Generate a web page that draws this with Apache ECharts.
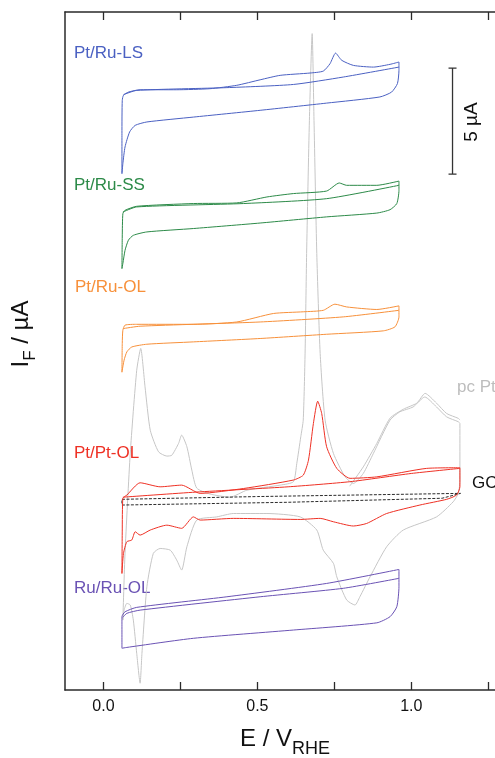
<!DOCTYPE html>
<html><head><meta charset="utf-8">
<script src="https://cdn.jsdelivr.net/npm/echarts@6/dist/echarts.min.js"></script>
<style>html,body{margin:0;padding:0;background:#fff}#c{width:495px;height:758px}</style>
</head><body><div id="c"></div>
<script>
// ---- data: [E (V vs RHE), I (µA, curves stacked with offsets as in the figure)] ----
const xTickValues = [0, 0.25, 0.5, 0.75, 1.0, 1.25];
const xLabelValues = [0, 0.5, 1.0];

const ptRuLS_scan1 = [[0.060,24.37],[0.060,26.26],[0.061,27.83],[0.065,28.07],[0.081,28.22],[0.119,28.33],[0.238,28.33],[0.346,28.38],[0.433,28.54],[0.509,28.80],[0.574,29.01],[0.671,29.12],[0.714,29.21],[0.736,29.56],[0.754,30.06],[0.774,29.72],[0.812,29.48],[0.877,29.40],[0.931,29.53],[0.960,29.64],[0.960,29.25],[0.955,28.62],[0.936,28.22],[0.898,27.99],[0.725,27.70],[0.509,27.36],[0.292,27.04],[0.141,26.81],[0.103,26.65],[0.085,26.34],[0.070,25.63],[0.063,24.84],[0.060,24.37]];
const ptRuLS_scan2 = [[0.065,28.10],[0.108,28.30],[0.401,28.43],[0.617,28.58],[0.779,28.93],[0.960,29.40]];

const ptRuSS_scan1 = [[0.060,19.89],[0.061,21.38],[0.063,22.48],[0.070,22.64],[0.108,22.83],[0.292,22.96],[0.433,22.99],[0.531,23.27],[0.617,23.43],[0.725,23.55],[0.766,23.93],[0.790,23.82],[0.888,23.82],[0.960,24.02],[0.960,23.58],[0.953,22.96],[0.931,22.67],[0.888,22.51],[0.725,22.33],[0.509,22.04],[0.292,21.78],[0.141,21.62],[0.097,21.46],[0.081,21.23],[0.070,20.75],[0.063,20.13],[0.060,19.89]];
const ptRuSS_scan2 = [[0.063,22.56],[0.108,22.80],[0.455,22.96],[0.725,23.19],[0.960,23.82]];

const ptRuOL_scan1 = [[0.060,15.00],[0.061,16.35],[0.063,16.98],[0.070,17.22],[0.108,17.26],[0.292,17.26],[0.433,17.37],[0.552,17.77],[0.649,17.85],[0.714,17.92],[0.752,18.21],[0.790,18.08],[0.888,17.96],[0.960,18.13],[0.960,17.61],[0.947,17.14],[0.909,16.95],[0.725,16.79],[0.509,16.59],[0.292,16.43],[0.141,16.32],[0.092,16.19],[0.076,15.96],[0.067,15.57],[0.061,15.09],[0.060,15.00]];
const ptRuOL_scan2 = [[0.065,17.06],[0.119,17.17],[0.509,17.37],[0.779,17.61],[0.960,17.92]];

const ptPtOL_scan1 = [[0.060,5.50],[0.061,7.50],[0.063,9.05],[0.076,9.20],[0.119,9.78],[0.184,9.59],[0.254,9.67],[0.314,9.28],[0.455,9.51],[0.617,9.91],[0.649,10.14],[0.666,10.85],[0.682,12.58],[0.696,13.63],[0.709,13.05],[0.725,11.48],[0.758,10.46],[0.801,9.99],[0.888,10.06],[1.050,10.46],[1.158,10.49],[1.158,9.59],[1.147,9.20],[1.115,9.00],[1.028,8.73],[0.920,8.33],[0.855,7.86],[0.812,7.74],[0.747,7.94],[0.704,8.10],[0.639,8.05],[0.422,8.10],[0.314,8.02],[0.292,8.17],[0.254,7.63],[0.206,7.78],[0.152,7.55],[0.119,7.31],[0.103,7.47],[0.092,7.08],[0.076,7.00],[0.065,6.45],[0.060,5.50]];
const ptPtOL_scan2 = [[0.063,9.10],[0.300,9.34],[0.600,9.59],[0.800,9.83],[1.000,10.22],[1.158,10.46]];

const ruRuOL_scan1 = [[0.060,1.97],[0.060,3.46],[0.070,3.69],[0.108,3.90],[0.401,4.40],[0.725,5.03],[0.960,5.69],[0.960,4.87],[0.953,3.93],[0.931,3.46],[0.888,3.17],[0.617,2.83],[0.292,2.44],[0.076,2.01],[0.060,1.97]];
const ruRuOL_scan2 = [[0.063,3.43],[0.076,3.62],[0.119,3.77],[0.509,4.40],[0.779,4.80],[0.960,5.27]];

const gc_scan = [[0.060,9.00],[0.500,9.13],[1.160,9.28],[1.160,9.20],[1.100,9.05],[0.600,8.86],[0.060,8.73],[0.060,9.00]];

const pcPt_scan1 = [[0.063,3.30],[0.070,6.46],[0.087,11.18],[0.108,15.09],[0.121,16.12],[0.135,14.31],[0.152,12.26],[0.179,11.24],[0.206,11.04],[0.222,11.08],[0.244,11.64],[0.254,12.03],[0.271,11.48],[0.287,10.38],[0.303,9.53],[0.346,9.25],[0.411,9.10],[0.466,9.43],[0.574,9.67],[0.617,9.83],[0.628,10.69],[0.641,11.95],[0.649,12.74],[0.655,15.90],[0.660,20.60],[0.669,26.89],[0.678,30.98],[0.684,26.89],[0.693,20.60],[0.704,15.88],[0.720,12.74],[0.747,11.17],[0.785,10.06],[0.812,9.75],[0.844,10.22],[0.877,11.17],[0.931,12.74],[0.963,13.13],[1.006,13.36],[1.044,13.83],[1.082,13.36],[1.115,12.89],[1.153,12.66],[1.158,12.58],[1.158,9.91],[1.153,9.28],[1.136,8.88],[1.082,8.17],[0.974,7.55],[0.920,6.76],[0.866,5.34],[0.833,4.40],[0.817,4.01],[0.790,4.25],[0.758,5.34],[0.747,5.98],[0.714,6.60],[0.693,7.55],[0.639,8.17],[0.531,8.33],[0.422,8.33],[0.368,8.17],[0.303,8.02],[0.271,6.76],[0.254,5.66],[0.238,6.13],[0.217,6.60],[0.184,6.68],[0.162,6.45],[0.141,4.87],[0.125,1.73],[0.119,0.32],[0.108,1.73],[0.097,3.30],[0.087,4.01],[0.076,4.09],[0.067,3.77],[0.063,3.30]];
const pcPt_scan2 = [[0.800,9.62],[0.844,10.53],[0.888,11.64],[0.931,12.83],[0.974,13.25],[1.018,13.54],[1.045,14.00],[1.082,13.54],[1.115,13.05],[1.153,12.82],[1.158,12.74]];

const scaleBarE = 1.134, scaleBarTop = 29.35, scaleBarSize = 5; // 5 µA scale bar
const scaleBarCap = 0.013;

const sampleNames = ['Pt/Ru-LS','Pt/Ru-SS','Pt/Ru-OL','Pt/Pt-OL','Ru/Ru-OL','pc Pt','GC'];
const colors = {ls:'#4a60c2', ss:'#2c8a48', ol:'#f7903a', pt:'#ee3024', ru:'#6a52b4', pc:'#c6c6c6', gc:'#2a2a2a'};

const FONT = '"Liberation Sans", Arial, Helvetica, sans-serif';
const chart = echarts.init(document.getElementById('c'), null, {renderer:'canvas'});

function line(data, color, extra) {
  return Object.assign({type:'line', data, symbol:'none', smooth:0.2, silent:true, animation:false,
    lineStyle:{color, width:1}, clip:true}, extra||{});
}
const sb = [[scaleBarE-scaleBarCap,scaleBarTop],[scaleBarE+scaleBarCap,scaleBarTop],[scaleBarE,scaleBarTop],
            [scaleBarE,scaleBarTop-scaleBarSize],[scaleBarE-scaleBarCap,scaleBarTop-scaleBarSize],[scaleBarE+scaleBarCap,scaleBarTop-scaleBarSize]];

const axisCommon = {type:'value', min:-0.125, max:1.272, splitLine:{show:false},
  axisLine:{show:true, onZero:false, lineStyle:{color:'#2a2a2a', width:1.5}},
  axisTick:{show:true, inside:true, length:8, customValues:xTickValues, lineStyle:{color:'#2a2a2a', width:1.3}}};

chart.setOption({
  animation:false,
  grid:{left:65, right:0, top:12, bottom:68, containLabel:false},
  xAxis:[
    Object.assign({}, axisCommon, {position:'bottom',
      axisLabel:{show:true, customValues:xLabelValues, formatter:v=>Number(v).toFixed(1), color:'#111', fontSize:16, fontFamily:FONT, margin:9}}),
    Object.assign({}, axisCommon, {position:'top', axisLabel:{show:false}})
  ],
  yAxis:{type:'value', min:0, max:32, position:'left', splitLine:{show:false}, axisTick:{show:false}, axisLabel:{show:false},
    axisLine:{show:true, onZero:false, lineStyle:{color:'#2a2a2a', width:1.5}}},
  series:[
    line(pcPt_scan1, colors.pc),
    line(pcPt_scan2, colors.pc),
    line(gc_scan, colors.gc, {smooth:false, lineStyle:{color:colors.gc, width:1, type:[3,1.5]}}),
    line(ruRuOL_scan1, colors.ru), line(ruRuOL_scan2, colors.ru),
    line(ptPtOL_scan1, colors.pt), line(ptPtOL_scan2, colors.pt),
    line(ptRuOL_scan1, colors.ol), line(ptRuOL_scan2, colors.ol),
    line(ptRuSS_scan1, colors.ss), line(ptRuSS_scan2, colors.ss),
    line(ptRuLS_scan1, colors.ls), line(ptRuLS_scan2, colors.ls),
    line(sb, '#333', {smooth:false, lineStyle:{color:'#333', width:1.3}})
  ],
  graphic:[
    {type:'text', x:74, y:53, style:{text:sampleNames[0], fill:colors.ls, font:'17px '+FONT, verticalAlign:'middle'}},
    {type:'text', x:74, y:185, style:{text:sampleNames[1], fill:colors.ss, font:'17px '+FONT, verticalAlign:'middle'}},
    {type:'text', x:75, y:287, style:{text:sampleNames[2], fill:colors.ol, font:'17px '+FONT, verticalAlign:'middle'}},
    {type:'text', x:74, y:453, style:{text:sampleNames[3], fill:colors.pt, font:'17px '+FONT, verticalAlign:'middle'}},
    {type:'text', x:74, y:588, style:{text:sampleNames[4], fill:colors.ru, font:'17px '+FONT, verticalAlign:'middle'}},
    {type:'text', x:457, y:387, style:{text:sampleNames[5], fill:'#bdbdbd', font:'17px '+FONT, verticalAlign:'middle'}},
    {type:'text', x:472, y:483, style:{text:sampleNames[6], fill:'#111', font:'17px '+FONT, verticalAlign:'middle'}},
    {type:'text', x:472, y:122, rotation:Math.PI/2, style:{text:'5 µA', fill:'#111', font:'19px '+FONT, align:'center', verticalAlign:'middle'}},
    {type:'text', x:285, y:739, style:{text:'{a|E / V}{b|RHE}', align:'center', verticalAlign:'middle',
      rich:{a:{fontSize:24, fontFamily:FONT, fill:'#111', lineHeight:28}, b:{fontSize:18, fontFamily:FONT, fill:'#111', lineHeight:17, padding:[20,0,0,0]}}}},
    {type:'text', x:21, y:334, rotation:Math.PI/2, style:{text:'{a|I}{b|F}{a| / µA}', align:'center', verticalAlign:'middle',
      rich:{a:{fontSize:24, fontFamily:FONT, fill:'#111', lineHeight:28}, b:{fontSize:17, fontFamily:FONT, fill:'#111', lineHeight:17, padding:[18,0,0,0]}}}}
  ]
});
</script>
</body></html>
